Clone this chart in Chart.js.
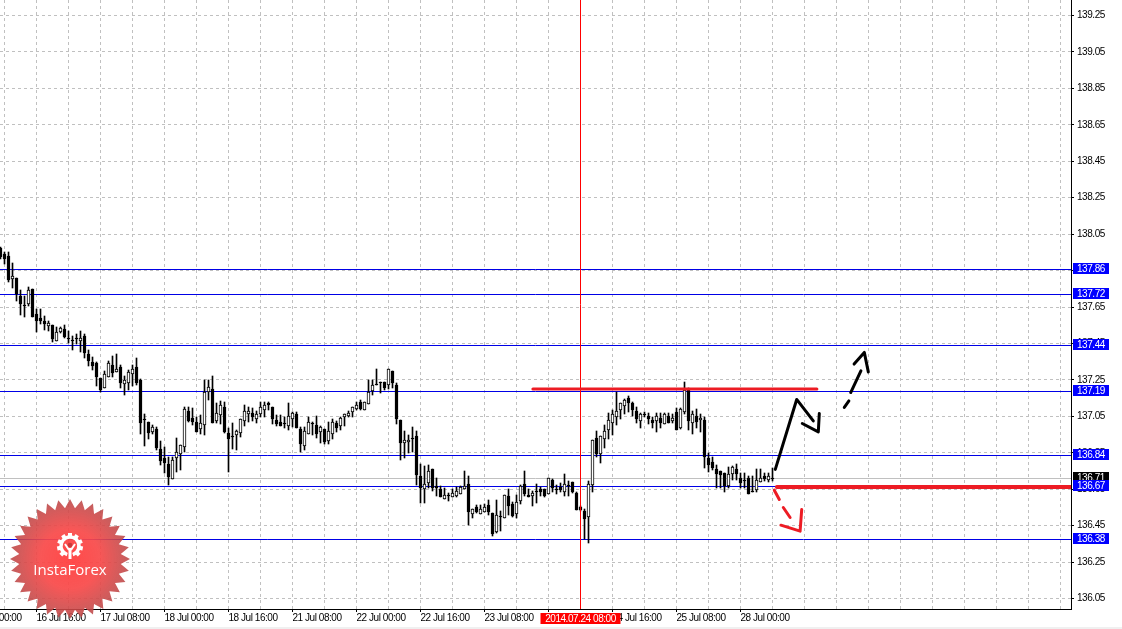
<!DOCTYPE html>
<html>
<head>
<meta charset="utf-8">
<title>InstaForex</title>
<script src="https://cdn.jsdelivr.net/npm/chart.js@4/dist/chart.umd.min.js"></script>
<style>
  html, body { margin: 0; padding: 0; background: #fff; overflow: hidden; }
  #wrap { width: 1122px; height: 629px; }
</style>
</head>
<body>
<div id="wrap"><canvas id="MiGrafica"></canvas></div>
<script>
// H1 candles, first one sits at bar index -1
const open = [137.973,137.941,137.930,137.803,137.809,137.710,137.661,137.666,137.748,137.611,137.589,137.573,137.545,137.551,137.463,137.512,137.529,137.479,137.468,137.479,137.463,137.490,137.392,137.348,137.342,137.260,137.205,137.265,137.331,137.293,137.320,137.227,137.232,137.282,137.320,137.249,137.035,137.018,136.963,136.980,136.870,136.821,136.788,136.705,136.821,136.843,136.881,137.079,137.040,137.018,136.980,137.002,137.183,137.199,137.024,137.057,137.101,136.958,136.941,136.947,136.958,137.024,137.062,137.068,137.035,137.062,137.084,137.123,137.101,137.029,137.018,137.013,136.996,137.035,137.062,136.980,136.886,136.952,137.013,137.002,136.963,136.980,136.914,136.952,137.013,136.996,137.046,137.051,137.073,137.090,137.128,137.084,137.117,137.188,137.227,137.238,137.238,137.221,137.298,137.221,137.029,136.903,136.908,136.930,136.941,136.722,136.650,136.683,136.760,136.667,136.650,136.595,136.617,136.606,136.612,136.623,136.650,136.678,136.513,136.552,136.513,136.524,136.563,136.519,136.414,136.502,136.491,136.612,136.568,136.513,136.585,136.678,136.617,136.612,136.639,136.650,136.650,136.623,136.700,136.650,136.661,136.634,136.672,136.689,136.628,136.552,136.530,136.497,136.672,136.930,136.843,136.925,136.974,137.013,137.046,137.084,137.106,137.150,137.123,137.079,137.024,137.062,137.051,137.029,137.024,137.040,137.007,137.051,137.024,137.073,136.985,137.073,137.194,137.013,137.051,137.029,137.029,136.821,136.799,136.760,136.749,136.738,136.667,136.733,136.760,136.711,136.700,136.711,136.639,136.645,136.689,136.722,136.700,136.711];
const high = [137.979,137.952,137.952,137.891,137.809,137.743,137.710,137.759,137.748,137.639,137.639,137.600,137.573,137.551,137.540,137.540,137.551,137.518,137.490,137.501,137.518,137.501,137.413,137.375,137.348,137.260,137.298,137.353,137.381,137.392,137.331,137.271,137.304,137.331,137.370,137.254,137.062,137.018,137.002,136.991,136.914,136.881,136.826,136.826,136.930,136.892,137.101,137.101,137.095,137.046,137.057,137.249,137.249,137.271,137.123,137.134,137.128,136.985,137.013,136.974,137.035,137.112,137.101,137.095,137.079,137.128,137.128,137.128,137.101,137.057,137.057,137.046,137.123,137.073,137.073,136.991,136.991,137.046,137.018,137.051,136.996,136.980,137.018,137.035,137.024,137.046,137.062,137.079,137.101,137.128,137.139,137.128,137.249,137.249,137.309,137.238,137.238,137.309,137.298,137.232,137.029,136.969,136.947,136.991,136.969,136.788,136.777,136.782,136.760,136.711,136.667,136.656,136.628,136.650,136.661,136.667,136.749,136.722,136.541,136.563,136.563,136.568,136.590,136.519,136.590,136.530,136.617,136.650,136.579,136.617,136.672,136.749,136.650,136.639,136.678,136.661,136.650,136.711,136.705,136.672,136.683,136.733,136.694,136.689,136.634,136.557,136.541,136.694,136.919,136.969,136.941,137.002,137.068,137.084,137.183,137.123,137.145,137.161,137.128,137.101,137.068,137.073,137.068,137.046,137.068,137.068,137.068,137.068,137.062,137.095,137.095,137.238,137.205,137.079,137.090,137.062,137.046,136.848,136.826,136.782,136.749,136.738,136.771,136.777,136.788,136.738,136.738,136.722,136.722,136.760,136.760,136.738,136.738,136.766];
const low = [137.913,137.886,137.787,137.754,137.683,137.606,137.595,137.655,137.595,137.512,137.556,137.523,137.518,137.457,137.463,137.507,137.479,137.452,137.413,137.446,137.403,137.370,137.326,137.304,137.216,137.183,137.205,137.265,137.265,137.293,137.205,137.166,137.194,137.216,137.221,136.952,136.886,136.925,136.952,136.864,136.782,136.738,136.672,136.705,136.744,136.755,136.853,137.018,137.002,136.963,136.952,136.947,137.139,137.013,137.013,137.007,136.958,136.744,136.870,136.864,136.936,136.996,137.018,137.024,137.013,137.046,137.046,137.084,137.007,136.996,136.996,136.985,136.974,136.991,136.985,136.853,136.864,136.952,136.947,136.930,136.903,136.897,136.897,136.925,136.963,136.974,136.996,137.046,137.046,137.084,137.084,137.084,137.117,137.166,137.221,137.177,137.194,137.199,137.205,137.007,136.810,136.821,136.848,136.853,136.672,136.574,136.574,136.656,136.639,136.612,136.606,136.595,136.585,136.606,136.606,136.623,136.650,136.453,136.491,136.519,136.513,136.524,136.508,136.392,136.409,136.420,136.491,136.508,136.497,136.491,136.568,136.612,136.606,136.557,136.574,136.612,136.606,136.623,136.634,136.623,136.634,136.612,136.612,136.628,136.535,136.530,136.376,136.354,136.634,136.826,136.793,136.875,136.925,136.947,137.002,137.035,137.062,137.073,137.051,137.013,136.985,137.046,137.007,136.985,136.963,136.985,137.007,137.013,137.013,136.974,136.980,137.062,136.974,136.952,136.985,136.963,136.766,136.744,136.755,136.656,136.656,136.634,136.656,136.700,136.700,136.656,136.656,136.623,136.634,136.634,136.689,136.694,136.689,136.694];
const close = [137.924,137.913,137.798,137.820,137.721,137.666,137.655,137.743,137.595,137.573,137.573,137.556,137.562,137.474,137.512,137.534,137.485,137.474,137.463,137.474,137.479,137.397,137.353,137.326,137.265,137.194,137.282,137.342,137.287,137.309,137.232,137.249,137.293,137.309,137.232,137.013,137.029,136.958,136.991,136.875,136.804,136.793,136.716,136.810,136.853,136.892,137.090,137.024,137.018,136.963,137.013,137.183,137.210,137.013,137.068,137.112,136.963,136.925,136.936,136.969,137.035,137.079,137.079,137.046,137.062,137.101,137.112,137.112,137.035,137.007,136.996,137.007,137.051,137.068,136.985,136.897,136.969,137.018,137.007,136.952,136.991,136.908,136.969,137.018,136.985,137.040,137.062,137.068,137.101,137.112,137.090,137.128,137.183,137.221,137.221,137.232,137.205,137.309,137.232,137.035,136.903,136.919,136.919,136.925,136.727,136.656,136.678,136.749,136.656,136.656,136.606,136.617,136.612,136.628,136.639,136.661,136.667,136.524,136.541,136.524,136.541,136.552,136.524,136.403,136.508,136.497,136.617,136.557,136.502,136.579,136.667,136.623,136.606,136.628,136.634,136.634,136.612,136.711,136.656,136.645,136.645,136.678,136.667,136.634,136.535,136.535,136.486,136.678,136.919,136.843,136.941,136.969,137.029,137.062,137.079,137.123,137.139,137.123,137.084,137.035,137.062,137.057,137.035,137.013,137.051,137.013,137.062,137.013,137.040,136.974,137.090,137.194,137.024,137.062,137.018,137.040,136.826,136.782,136.766,136.733,136.727,136.667,136.733,136.771,136.733,136.683,136.694,136.623,136.634,136.700,136.711,136.705,136.722,136.705];

// price axis and time axis
const priceTicks = [136.05,136.25,136.45,136.65,136.85,137.05,137.25,137.45,137.65,137.85,138.05,138.25,138.45,138.65,138.85,139.05,139.25];
const barGrid = [-8,0,8,16,24,32,40,48,56,64,72,80,88,96,104,112,120,128,136,144,152,160,168,176,184,192,200,208,216,224,232,240,248,256,264];
const timeLabels = ["16 Jul 00:00","16 Jul 16:00","17 Jul 08:00","18 Jul 00:00","18 Jul 16:00","21 Jul 08:00","22 Jul 00:00","22 Jul 16:00","23 Jul 08:00","24 Jul 00:00","24 Jul 16:00","25 Jul 08:00","28 Jul 00:00"];
const firstBar = -1;
const xMin = -1.125, xMax = 266.625, yMin = 135.993, yMax = 139.335;

// horizontal levels
const blueLevels = [137.86,137.72,137.44,137.19,136.84,136.67,136.376];
const bidLevel = 136.71;
const cursorBar = 144;
const cursorLabel = "2014.07.24 08:00";

// hand drawn marks, bar index / price
const resistanceX = [132.1,203.1], resistanceY = [137.202,137.202];
const supportX = [193.1,266.625], supportY = [136.66,136.66];
const upMainX = [192.7,198.05,202.2], upMainY = [136.759,137.143,137.025];
const upHeadX = [199.45,203.45,203.7], upHeadY = [137.011,136.965,137.066];
const upDash1X = [209.95,211.1], upDash1Y = [137.099,137.135];
const upDash2X = [211.55,214.1], upDash2Y = [137.181,137.30];
const upTipX = [212.4,214.95,215.95], upTipY = [137.337,137.401,137.294];
const downDash1X = [192.45,193.7], downDash1Y = [136.645,136.594];
const downDash2X = [194.7,196.4], downDash2Y = [136.550,136.495];
const downTipX = [194.1,198.9,199.3], downTipY = [136.453,136.420,136.539];

const labelFamily = '"Liberation Sans", sans-serif';
const labelFont = '10px ' + labelFamily;
const gridColor = '#c0c0c0';
const paintRed = '#ed1c24';

const bars = open.map((o, i) => firstBar + i);

function stroke(xs, ys, color, width, order, snap) {
  return {
    type: 'line',
    data: xs.map((x, i) => ({ x: x, y: ys[i] })),
    borderColor: color,
    borderWidth: width,
    pointRadius: 0,
    tension: 0,
    borderCapStyle: 'round',
    borderJoinStyle: 'round',
    order: order,
    snap: snap
  };
}

const datasets = [];
// marks on top
datasets.push(stroke(resistanceX, resistanceY, paintRed, 3, 0, 'even'));
datasets.push(stroke(supportX, supportY, paintRed, 4, 0, 'even'));
datasets.push(stroke(upMainX, upMainY, '#000', 3, 0));
datasets.push(stroke(upHeadX, upHeadY, '#000', 3, 0));
datasets.push(stroke(upDash1X, upDash1Y, '#000', 3, 0));
datasets.push(stroke(upDash2X, upDash2Y, '#000', 3, 0));
datasets.push(stroke(upTipX, upTipY, '#000', 3, 0));
datasets.push(stroke(downDash1X, downDash1Y, paintRed, 3, 0));
datasets.push(stroke(downDash2X, downDash2Y, paintRed, 3, 0));
datasets.push(stroke(downTipX, downTipY, paintRed, 3, 0));
datasets.push(stroke([cursorBar, cursorBar], [yMin, yMax], '#ff0000', 1, 1));
// candle bodies over the wicks
datasets.push({
  type: 'bar',
  data: bars.map((b, i) => ({ x: b, y: [open[i], close[i]] })),
  backgroundColor: bars.map((b, i) => close[i] > open[i] ? '#fff' : '#000'),
  borderColor: '#000',
  borderWidth: 1,
  borderSkipped: false,
  barThickness: 3,
  grouped: false,
  order: 2,
  snap: 'bar'
});
datasets.push({
  type: 'bar',
  data: bars.map((b, i) => ({ x: b, y: [low[i], high[i]] })),
  backgroundColor: '#000',
  borderWidth: 0,
  barThickness: 1,
  grouped: false,
  order: 3,
  snap: 'bar'
});
blueLevels.forEach(p => {
  datasets.push(stroke([xMin, xMax], [p, p], '#0000e6', 1, 4, 'odd'));
});
datasets.push(stroke([xMin, xMax], [bidLevel, bidLevel], '#c0c0c0', 1, 5, 'odd'));

// keeps candles and levels on whole pixels
const snapPlugin = {
  id: 'snapPlugin',
  afterDatasetsUpdate(chart) {
    chart.data.datasets.forEach((ds, n) => {
      if (!ds.snap) return;
      chart.getDatasetMeta(n).data.forEach(el => {
        if (ds.snap === 'bar') {
          const top = Math.round(Math.min(el.y, el.base));
          let bottom = Math.round(Math.max(el.y, el.base));
          if (bottom === top) bottom = top + 1;
          el.y = top;
          el.base = bottom;
        } else if (ds.snap === 'odd') {
          el.y = Math.round(el.y) + 0.5;
        } else {
          el.y = Math.round(el.y);
        }
      });
    });
  },
  beforeDraw(chart) {
    chart.ctx.letterSpacing = '-0.45px';
  }
};

function priceBox(ctx, y, text, color) {
  const top = Math.round(y) - 6;
  ctx.fillStyle = color;
  ctx.fillRect(1073, top, 36, 11);
  ctx.fillStyle = '#fff';
  ctx.font = labelFont;
  ctx.textAlign = 'left';
  ctx.textBaseline = 'middle';
  ctx.fillText(text, 1077, top + 6);
}

function drawLogo(ctx) {
  const cx = 70, cy = 559, rOut = 60, rIn = 51, spikes = 32;
  ctx.save();
  ctx.letterSpacing = '0px';
  const grad = ctx.createRadialGradient(cx, cy, 5, cx, cy, rOut);
  grad.addColorStop(0, 'rgba(255,68,68,0.96)');
  grad.addColorStop(0.45, 'rgba(248,72,72,0.92)');
  grad.addColorStop(1, 'rgba(186,72,72,0.88)');
  ctx.fillStyle = grad;
  ctx.beginPath();
  for (let i = 0; i < spikes * 2; i++) {
    const r = i % 2 ? rIn : rOut;
    const a = -Math.PI / 2 + i * Math.PI / spikes;
    ctx.lineTo(cx + r * Math.cos(a), cy + r * Math.sin(a));
  }
  ctx.closePath();
  ctx.fill();

  // gear with the little figure inside
  const gx = 70, gy = 546;
  ctx.fillStyle = '#fff';
  for (let i = 0; i < 9; i++) {
    const a = Math.PI * 0.75 + i * Math.PI * 1.5 / 8;
    ctx.save();
    ctx.translate(gx, gy);
    ctx.rotate(a);
    ctx.fillRect(8, -2, 5, 4);
    ctx.restore();
  }
  ctx.lineWidth = 3.5;
  ctx.strokeStyle = '#fff';
  ctx.beginPath();
  ctx.arc(gx, gy, 9, Math.PI * 0.6, Math.PI * 2.4);
  ctx.stroke();
  ctx.beginPath();
  ctx.arc(gx, gy - 1, 2.3, 0, Math.PI * 2);
  ctx.fillStyle = '#c83a3a';
  ctx.fill();
  ctx.fillStyle = '#fff';
  ctx.fillRect(gx - 1.5, gy + 2, 3, 11);
  ctx.lineWidth = 2;
  ctx.beginPath();
  ctx.moveTo(gx - 5, gy - 2);
  ctx.lineTo(gx - 1, gy + 4);
  ctx.moveTo(gx + 5, gy - 2);
  ctx.lineTo(gx + 1, gy + 4);
  ctx.stroke();

  ctx.fillStyle = '#fff';
  ctx.font = '15px "Open Sans", sans-serif';
  ctx.textAlign = 'center';
  ctx.textBaseline = 'middle';
  ctx.fillText('InstaForex', cx, 571);
  ctx.restore();
}

const overlayPlugin = {
  id: 'overlayPlugin',
  afterDraw(chart) {
    const ctx = chart.ctx;
    const y = chart.scales.y;
    const x = chart.scales.x;
    ctx.save();
    priceBox(ctx, y.getPixelForValue(bidLevel), bidLevel.toFixed(2), '#000');
    blueLevels.forEach(p => priceBox(ctx, y.getPixelForValue(p), p.toFixed(2), '#0000ff'));

    const cx = x.getPixelForValue(cursorBar);
    ctx.fillStyle = '#ff0000';
    ctx.fillRect(cx - 40, 613, 80, 11);
    ctx.fillStyle = '#fff';
    ctx.font = labelFont;
    ctx.textAlign = 'center';
    ctx.textBaseline = 'middle';
    ctx.fillText(cursorLabel, cx, 619);

    ctx.fillStyle = '#f0f0f0';
    ctx.fillRect(0, 627, chart.width, 2);
    drawLogo(ctx);
    ctx.restore();
  }
};

new Chart(document.getElementById('MiGrafica').getContext('2d'), {
  type: 'bar',
  data: { datasets: datasets },
  plugins: [snapPlugin, overlayPlugin],
  options: {
    responsive: true,
    maintainAspectRatio: false,
    animation: false,
    events: [],
    layout: { padding: 0 },
    plugins: { legend: { display: false }, tooltip: { enabled: false } },
    scales: {
      x: {
        type: 'linear',
        min: xMin,
        max: xMax,
        offset: false,
        afterBuildTicks: s => { s.ticks = barGrid.map(v => ({ value: v })); },
        afterFit: s => { s.height = 20; s.paddingLeft = 0; s.paddingRight = 0; },
        grid: {
          offset: false,
          color: gridColor,
          tickLength: 3,
          tickColor: c => (c.tick && (c.tick.value + 8) % 16 === 0 && c.tick.value <= 184) ? '#000' : 'rgba(0,0,0,0)'
        },
        border: { color: '#000', dash: [3, 3] },
        ticks: {
          autoSkip: false,
          maxRotation: 0,
          align: 'start',
          padding: 0,
          color: '#000',
          font: { family: labelFamily, size: 10 },
          callback: v => (v + 8) % 16 === 0 ? (timeLabels[(v + 8) / 16] || '') : ''
        }
      },
      y: {
        position: 'right',
        min: yMin,
        max: yMax,
        afterBuildTicks: s => { s.ticks = priceTicks.map(v => ({ value: v })); },
        afterFit: s => { s.width = 51; s.paddingTop = 0; s.paddingBottom = 0; },
        grid: { color: gridColor, tickLength: 3, tickColor: '#000' },
        border: { color: '#000', dash: [3, 3] },
        ticks: {
          padding: 3,
          color: '#000',
          font: { family: labelFamily, size: 10 },
          callback: v => v.toFixed(2)
        }
      }
    }
  }
});
</script>
</body>
</html>
